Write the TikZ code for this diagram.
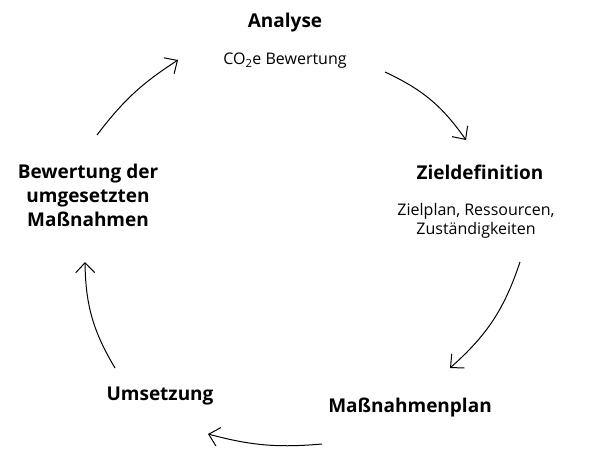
\documentclass[tikz,border=0pt]{standalone}
\usepackage{fontspec}
\setmainfont{Open Sans}
\usetikzlibrary{arrows.meta}

\begin{document}
\begin{tikzpicture}[x=1pt, y=-1pt, >={Straight Barb[length=10pt, width=19pt]},
  title/.style={font=\fontsize{19}{24}\selectfont\bfseries, align=center},
  sub/.style={font=\fontsize{16}{19}\selectfont, align=center}]
\useasboundingbox (0,0) rectangle (589,448);
\node [title] (analyse) at (285,23) {Analyse};
\node [sub] (co2) at (285,61) {CO\textsubscript{2}e Bewertung};
\node [title] (ziel) at (480,172) {Zieldefinition};
\node [sub] (zielsub) at (476,221) {Zielplan, Ressourcen,\\Zuständigkeiten};
\node [title] (plan) at (410,408) {Maßnahmenplan};
\node [title] (umsetzung) at (160,396) {Umsetzung};
\node [title] (bewertung) at (88,195) {Bewertung der\\umgesetzten\\Maßnahmen};
\coordinate (a1) at (385,72);  \coordinate (b1) at (466,140);
\coordinate (a2) at (520,262); \coordinate (b2) at (450,368);
\coordinate (a3) at (322,444); \coordinate (b3) at (208,434);
\coordinate (a4) at (115,368); \coordinate (b4) at (85,262);
\coordinate (a5) at (97,135);  \coordinate (b5) at (178,60);
\draw [->, line width=1pt] (a1) to [bend left=15] (b1);
\draw [->, line width=1pt] (a2) to [bend left=15] (b2);
\draw [->, line width=1pt] (a3) to [bend left=10] (b3);
\draw [->, line width=1pt] (a4) to [bend left=15] (b4);
\draw [->, line width=1pt] (a5) to [bend left=10] (b5);
\end{tikzpicture}
\end{document}
